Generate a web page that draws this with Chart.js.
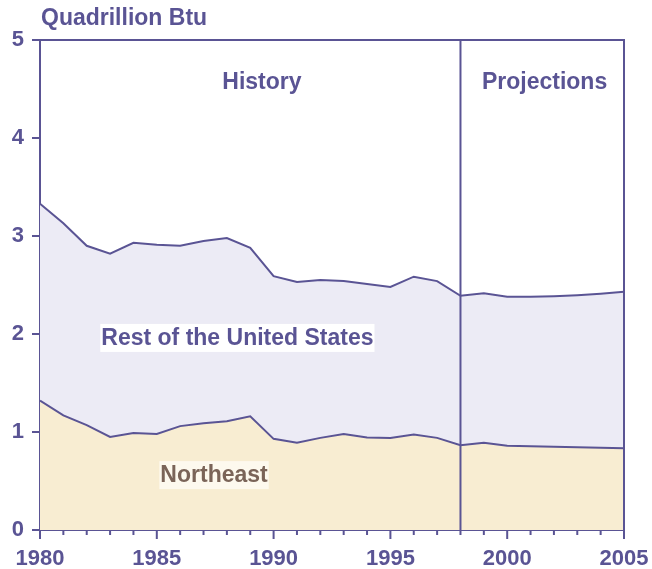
<!DOCTYPE html>
<html>
<head>
<meta charset="utf-8">
<script src="https://cdn.jsdelivr.net/npm/chart.js@4"></script>
<style>
  html, body { margin: 0; padding: 0; background: #ffffff; }
  #wrap { width: 652px; height: 569px; position: relative; }
</style>
</head>
<body>
<div id="wrap"><canvas id="chart"></canvas></div>
<script>
// Natural gas consumption, Northeast vs rest of US (quadrillion Btu)

const years = [1980, 1981, 1982, 1983, 1984, 1985, 1986, 1987, 1988, 1989,
  1990, 1991, 1992, 1993, 1994, 1995, 1996, 1997, 1998, 1999,
  2000, 2001, 2002, 2003, 2004, 2005];

const northeast = [1.32, 1.17, 1.07, 0.95, 0.99, 0.98, 1.06, 1.09, 1.11, 1.16,
  0.93, 0.89, 0.94, 0.98, 0.945, 0.94, 0.975, 0.94, 0.865, 0.89,
  0.86, 0.855, 0.85, 0.845, 0.84, 0.835];

// top line = US total
const usTotal = [3.33, 3.13, 2.90, 2.82, 2.93, 2.91, 2.90, 2.95, 2.98, 2.88,
  2.59, 2.53, 2.55, 2.54, 2.51, 2.48, 2.585, 2.54, 2.39, 2.415,
  2.38, 2.38, 2.385, 2.395, 2.41, 2.43];

const yTicks = [0, 1, 2, 3, 4, 5];
const xLabels = [1980, 1985, 1990, 1995, 2000, 2005];
const splitYear = 1998;

const INK = '#5a5494';
const FONT = '"Liberation Sans", Arial, sans-serif';

const toPoints = vals => years.map((y, i) => ({ x: y, y: vals[i] }));

// frame, 1998 divider, minor/major x ticks and text labels
const decorations = {
  id: 'decorations',
  afterDatasetsDraw(chart) {
    const { ctx, chartArea: a, scales: { x, y } } = chart;
    ctx.save();
    ctx.strokeStyle = INK;
    ctx.lineWidth = 2;

    ctx.beginPath();
    ctx.moveTo(a.left, a.top);
    ctx.lineTo(a.right, a.top);
    ctx.lineTo(a.right, a.bottom);
    const xs = x.getPixelForValue(splitYear);
    ctx.moveTo(xs, a.top);
    ctx.lineTo(xs, a.bottom);
    ctx.stroke();

    for (let yr = years[0]; yr <= years[years.length - 1]; yr++) {
      const px = x.getPixelForValue(yr);
      ctx.beginPath();
      ctx.moveTo(px, a.bottom);
      ctx.lineTo(px, a.bottom + (yr % 5 === 0 ? 9 : 5));
      ctx.stroke();
    }

    ctx.textAlign = 'center';
    ctx.textBaseline = 'middle';
    ctx.font = 'bold 23px ' + FONT;
    ctx.fillStyle = INK;
    ctx.fillText('History', x.getPixelForValue(1989.5), y.getPixelForValue(4.56));
    ctx.fillText('Projections', x.getPixelForValue(2001.6), y.getPixelForValue(4.56));

    const boxed = (text, xv, yv, color, bg) => {
      const px = x.getPixelForValue(xv);
      const py = y.getPixelForValue(yv);
      const w = ctx.measureText(text).width;
      ctx.fillStyle = bg;
      ctx.fillRect(px - w / 2 - 1, py - 14, w + 2, 28);
      ctx.fillStyle = color;
      ctx.fillText(text, px, py + 1);
    };
    boxed('Rest of the United States', 1988.45, 1.96, INK, '#ffffff');
    boxed('Northeast', 1987.45, 0.56, '#7a6458', '#fdf9ee');

    ctx.textAlign = 'left';
    ctx.fillStyle = INK;
    ctx.fillText('Quadrillion Btu', 41, 19);
    ctx.restore();
  }
};

new Chart(document.getElementById('chart'), {
  type: 'line',
  data: {
    datasets: [{
      label: 'Northeast',
      data: toPoints(northeast),
      borderColor: INK,
      borderWidth: 2,
      backgroundColor: '#f8edd2',
      fill: 'origin',
      pointRadius: 0,
      tension: 0,
    }, {
      label: 'Rest of the United States',
      data: toPoints(usTotal),
      borderColor: INK,
      borderWidth: 2,
      backgroundColor: '#ecebf5',
      fill: '-1',
      pointRadius: 0,
      tension: 0,
    }],
  },
  options: {
    responsive: true,
    maintainAspectRatio: false,
    animation: false,
    layout: { padding: { top: 40, right: 28, bottom: 0, left: 0 } },
    plugins: {
      legend: { display: false },
      tooltip: { enabled: false },
    },
    scales: {
      x: {
        type: 'linear',
        min: 1980,
        max: 2005,
        afterFit: s => { s.height = 39; s.paddingLeft = 0; s.paddingRight = 0; },
        afterBuildTicks: s => { s.ticks = xLabels.map(v => ({ value: v })); },
        ticks: {
          color: INK,
          font: { family: FONT, size: 22, weight: 'bold' },
          padding: 8,
          maxRotation: 0,
          autoSkip: false,
          callback: v => String(v),
        },
        grid: { display: false },
        border: { color: INK, width: 2 },
      },
      y: {
        min: 0,
        max: 5,
        afterFit: s => { s.width = 40; s.paddingTop = 0; s.paddingBottom = 0; },
        afterBuildTicks: s => { s.ticks = yTicks.map(v => ({ value: v })); },
        ticks: {
          color: INK,
          font: { family: FONT, size: 22, weight: 'bold' },
          padding: 8,
        },
        grid: {
          drawOnChartArea: false,
          drawTicks: true,
          tickLength: 8,
          tickColor: INK,
          lineWidth: 2,
        },
        border: { color: INK, width: 2 },
      },
    },
  },
  plugins: [decorations],
});
</script>
</body>
</html>
